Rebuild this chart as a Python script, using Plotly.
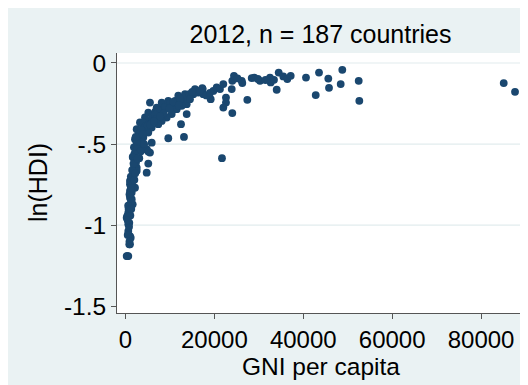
import plotly.graph_objects as go

# ---- data (GNI per capita, ln(HDI)) ----
gni_high = [17370, 17510, 19170, 19760, 20520, 21260, 22010, 22610, 22610, 22010,
            24030, 23900, 24030, 24410, 26150, 26280, 27410, 28400, 28980, 30260,
            32510, 32670, 33410, 34020, 34470, 35510, 36410, 37170, 40610, 42800,
            43540, 45630, 45790, 48420, 48780, 52470, 52610, 21710, 85100, 87640,
            31500, 29800, 25200]
hdi_high = [-0.161, -0.192, -0.223, -0.172, -0.151, -0.161, -0.130, -0.213, -0.244, -0.275,
            -0.309, -0.161, -0.110, -0.079, -0.110, -0.124, -0.227, -0.093, -0.090, -0.110,
            -0.090, -0.120, -0.104, -0.165, -0.059, -0.083, -0.099, -0.079, -0.090, -0.198,
            -0.059, -0.096, -0.153, -0.130, -0.042, -0.110, -0.233, -0.587, -0.124, -0.178,
            -0.105, -0.098, -0.095]

gni_mid = [5510, 16380, 15260, 14510, 13770, 13010, 11880, 11140, 10400, 9270,
           8510, 7760, 7020, 6260, 5510, 4770, 4010, 3650, 2880, 2140,
           3260, 3650, 4770, 5510, 5900, 9630, 13160, 12490, 13770, 7020,
           8150, 9630, 11880, 13390, 15640, 4390, 3260, 2520, 4010, 5130,
           17280, 14360, 5130, 4010, 3260, 2520, 2880, 4010, 3100, 11520,
           10400, 9270, 8150, 7380, 5900, 4770, 13770, 14510, 12650, 2520,
           5130, 1620,
           6700, 7400, 8900, 10000, 10800, 12300, 6000, 6600, 4500, 5000,
           3500, 3000, 2300, 1900, 2600, 3400, 2000, 4200, 6900, 8600,
           9900, 12000, 15000, 16800, 18200, 19000, 3900, 5600, 7800, 6400]
hdi_mid = [-0.244, -0.182, -0.192, -0.202, -0.223, -0.233, -0.244, -0.233, -0.254, -0.264,
           -0.275, -0.295, -0.315, -0.336, -0.357, -0.377, -0.398, -0.429, -0.449, -0.470,
           -0.480, -0.522, -0.531, -0.552, -0.491, -0.464, -0.456, -0.377, -0.315, -0.275,
           -0.244, -0.233, -0.202, -0.192, -0.161, -0.336, -0.367, -0.408, -0.460, -0.429,
           -0.155, -0.192, -0.306, -0.367, -0.429, -0.460, -0.501, -0.531, -0.587, -0.285,
           -0.315, -0.336, -0.357, -0.377, -0.398, -0.419, -0.254, -0.223, -0.264, -0.491,
           -0.546, -0.579,
           -0.300, -0.290, -0.270, -0.248, -0.240, -0.222, -0.330, -0.318, -0.390, -0.385,
           -0.412, -0.440, -0.455, -0.520, -0.530, -0.545, -0.560, -0.500, -0.345, -0.310,
           -0.282, -0.262, -0.178, -0.170, -0.200, -0.185, -0.440, -0.380, -0.330, -0.360]

gni_low = [5130, 4770, 1760, 2140, 2520, 1760, 1400, 1010, 1760, 1400,
           1010, 1620, 630, 270, 630, 630, 1010, 1010, 270, 630,
           2360, 1910, 2520, 1760, 1010, 2140, 1010, 1400, 1010, 410,
           860, 1170, 860, 410,
           1200, 1500, 900, 1300, 700, 1100, 800, 500, 1500, 2000,
           1200, 600, 1800, 2700, 900, 1300, 500, 2200]
hdi_low = [-0.620, -0.676, -0.583, -0.604, -0.645, -0.686, -0.717, -0.748, -0.769, -0.799,
           -0.830, -0.871, -0.923, -0.954, -0.994, -1.036, -1.067, -1.118, -1.190, -1.190,
           -0.614, -0.645, -0.665, -0.696, -0.727, -0.769, -0.789, -0.840, -0.871, -0.943,
           -0.985, -1.077, -1.118, -1.190,
           -0.700, -0.750, -0.810, -0.850, -0.900, -0.940, -1.010, -1.060, -0.660, -0.720,
           -0.770, -0.880, -0.620, -0.590, -1.100, -0.900, -0.970, -0.680]

x_ticks = [0, 20000, 40000, 60000, 80000]
x_ticklabels = ["0", "20000", "40000", "60000", "80000"]
y_ticks = [0, -0.5, -1, -1.5]
y_ticklabels = ["0", "-.5", "-1", "-1.5"]
y_grid = [0, -0.5, -1]

title_text = "2012, n = 187 countries"
x_title = "GNI per capita"
y_title = "ln(HDI)"

gni = gni_high + gni_mid + gni_low
hdi = hdi_high + hdi_mid + hdi_low

FONT = "Liberation Sans, Arial, sans-serif"
BG = "#EAF2F3"
NAVY = "#1A476F"
AXIS = "#555555"

fig = go.Figure(go.Scatter(
    x=gni, y=hdi, mode="markers",
    marker=dict(color=NAVY, size=7.8, line=dict(width=0)),
    hoverinfo="x+y"))

W, H = 528, 385
L, R, T, B = 109, 12, 45, 80
pw, ph = W - L - R, H - T - B

shapes = []
for g in y_grid:
    shapes.append(dict(type="line", xref="paper", yref="y", layer="below",
                       x0=0, x1=1, y0=g, y1=g,
                       line=dict(color="#E2ECEE", width=1.2)))

fig.update_layout(
    width=W, height=H,
    margin=dict(l=L, r=R, t=T, b=B, pad=0),
    paper_bgcolor=BG, plot_bgcolor="white",
    showlegend=False,
    font=dict(family=FONT, size=25, color="black"),
    title=dict(text=title_text, x=(L + pw / 2) / W, xanchor="center",
               y=1 - 26 / H, yanchor="middle", yref="container",
               font=dict(size=25, family=FONT, color="black")),
    shapes=shapes,
    xaxis=dict(range=[-1910, 89660], tickvals=x_ticks, ticktext=x_ticklabels,
               showgrid=False, zeroline=False, showline=True, linecolor=AXIS,
               linewidth=1, ticks="outside", ticklen=5, tickcolor=AXIS,
               tickfont=dict(size=24, family=FONT, color="black"),
               fixedrange=True),
    yaxis=dict(range=[-1.541, 0.0615], tickvals=y_ticks, ticktext=y_ticklabels,
               showgrid=False, zeroline=False, showline=True, linecolor=AXIS,
               linewidth=1, ticks="outside", ticklen=5, tickcolor=AXIS,
               tickfont=dict(size=24.5, family=FONT, color="black"),
               fixedrange=True),
    annotations=[
        dict(text=x_title, xref="paper", yref="paper", x=0.5,
             y=(H - B - 358) / ph, xanchor="center", yanchor="middle",
             showarrow=False, font=dict(size=24.5, family=FONT, color="black")),
        dict(text=y_title, xref="paper", yref="paper", x=(30 - L) / pw,
             y=0.5, xanchor="center", yanchor="middle", textangle=-90,
             showarrow=False, font=dict(size=25, family=FONT, color="black")),
    ],
)

fig.write_html("out.html")
